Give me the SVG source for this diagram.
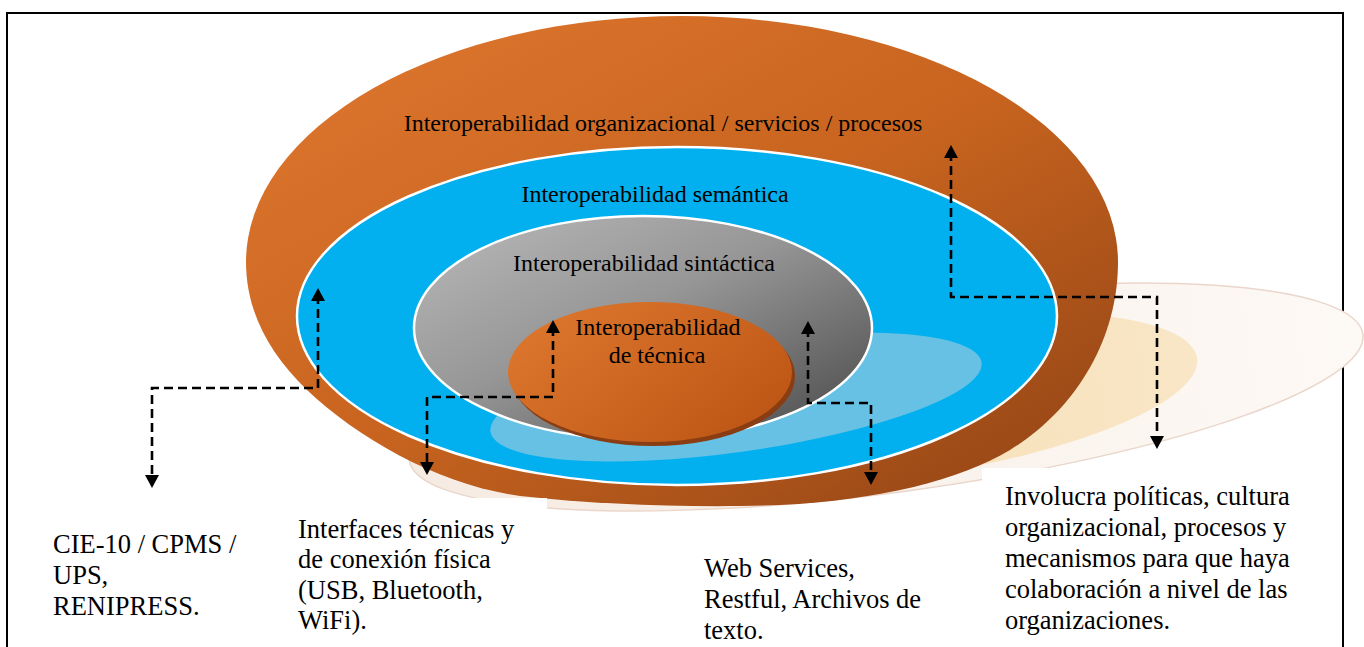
<svg xmlns="http://www.w3.org/2000/svg" width="1364" height="647" viewBox="0 0 1364 647">
<style>
  .lbl { font-family: "Liberation Serif", "Times New Roman", serif; fill: #000; }
  .in { font-size: 24px; text-anchor: middle; }
  .out { font-size: 26.5px; }
  .conn { fill: none; stroke: #000; stroke-width: 2.6; stroke-dasharray: 9 5; marker-start: url(#arr); marker-end: url(#arr); }
</style>
<defs>
  <marker id="arr" viewBox="0 0 13 14" markerWidth="13" markerHeight="14" refX="6" refY="7" markerUnits="userSpaceOnUse" orient="auto-start-reverse">
    <path d="M0,0 L13,7 L0,14 z" fill="#000"/>
  </marker>
  <linearGradient id="gOuter" x1="0" y1="0" x2="1" y2="1">
    <stop offset="0" stop-color="#e07830"/>
    <stop offset="0.5" stop-color="#c8641f"/>
    <stop offset="1" stop-color="#8f4215"/>
  </linearGradient>
  <linearGradient id="gGray" x1="0" y1="0" x2="1" y2="1">
    <stop offset="0" stop-color="#bababa"/>
    <stop offset="0.45" stop-color="#969696"/>
    <stop offset="1" stop-color="#474747"/>
  </linearGradient>
  <linearGradient id="gTec" x1="0" y1="0" x2="1" y2="0.6">
    <stop offset="0" stop-color="#e07a30"/>
    <stop offset="1" stop-color="#bf5816"/>
  </linearGradient>
  <linearGradient id="gPale" x1="0" y1="0" x2="1" y2="0">
    <stop offset="0" stop-color="#f6ebe2"/>
    <stop offset="1" stop-color="#fdf9f5"/>
  </linearGradient>
  <linearGradient id="gYel" x1="0" y1="0" x2="1" y2="0">
    <stop offset="0" stop-color="#f6dcae"/>
    <stop offset="1" stop-color="#f9e6c6"/>
  </linearGradient>
</defs>

<rect x="7" y="13" width="1336" height="700" fill="none" stroke="#000" stroke-width="2"/>

<g id="reflection">
  <ellipse cx="886" cy="397" rx="481" ry="96" transform="rotate(-7.5 886 397)" fill="url(#gPale)" stroke="#ead6cb" stroke-width="1.5"/>
  <ellipse cx="900" cy="400" rx="300" ry="78" transform="rotate(-8 900 400)" fill="url(#gYel)"/>
</g>

<g id="organizacional">
  <path d="M1118 262 C1118 340 1075 410 1010 450 C960 480 880 500 780 505 C700 508 600 505 520 496 C440 485 360 440 307 390 C268 352 246 310 246 262 A436 246 0 0 1 1118 262 Z" fill="url(#gOuter)"/>
  <text class="lbl in" x="663" y="131">Interoperabilidad organizacional / servicios / procesos</text>
</g>

<g id="semantica">
  <ellipse cx="677" cy="316" rx="380" ry="169" fill="#02b0ef" stroke="#ffffff" stroke-width="2.5"/>
  <ellipse cx="736" cy="397" rx="248" ry="55" transform="rotate(-8 736 397)" fill="#67c1e4"/>
  <text class="lbl in" x="655" y="202">Interoperabilidad semántica</text>
</g>

<g id="sintactica">
  <ellipse cx="643" cy="328" rx="229" ry="112" fill="url(#gGray)" stroke="#ffffff" stroke-width="2.5"/>
  <text class="lbl in" x="644" y="271">Interoperabilidad sintáctica</text>
</g>

<g id="tecnica">
  <ellipse cx="653" cy="376" rx="142" ry="70" fill="#8a3c12"/>
  <ellipse cx="650" cy="372" rx="142" ry="70" fill="url(#gTec)"/>
  <text class="lbl in" x="658" y="335">Interoperabilidad</text>
  <text class="lbl in" x="657" y="363">de técnica</text>
</g>

<g id="connectors">
  <path class="conn" d="M318 295 V388 H152 V481"/>
  <path class="conn" d="M553 327 V397 H427 V468"/>
  <path class="conn" d="M808 328 V403 H871 V478"/>
  <path class="conn" d="M951 152 V297 H1157 V442"/>
</g>

<g id="box-cie">
  <text class="lbl out" x="53" y="553">CIE-10 / CPMS /</text>
  <text class="lbl out" x="53" y="584">UPS,</text>
  <text class="lbl out" x="53" y="615">RENIPRESS.</text>
</g>

<g id="box-interfaces">
  <rect x="290" y="498" width="257" height="149" fill="#ffffff"/>
  <text class="lbl out" x="298" y="538">Interfaces técnicas y</text>
  <text class="lbl out" x="298" y="568">de conexión física</text>
  <text class="lbl out" x="298" y="599">(USB, Bluetooth,</text>
  <text class="lbl out" x="298" y="629">WiFi).</text>
</g>

<g id="box-web">
  <text class="lbl out" x="704" y="577">Web Services,</text>
  <text class="lbl out" x="704" y="608">Restful, Archivos de</text>
  <text class="lbl out" x="704" y="639">texto.</text>
</g>

<g id="box-involucra">
  <rect x="982" y="468" width="359" height="179" fill="#ffffff"/>
  <text class="lbl out" x="1005" y="505">Involucra políticas, cultura</text>
  <text class="lbl out" x="1005" y="536">organizacional, procesos y</text>
  <text class="lbl out" x="1005" y="567">mecanismos para que haya</text>
  <text class="lbl out" x="1005" y="598">colaboración a nivel de las</text>
  <text class="lbl out" x="1005" y="629">organizaciones.</text>
</g>
</svg>
